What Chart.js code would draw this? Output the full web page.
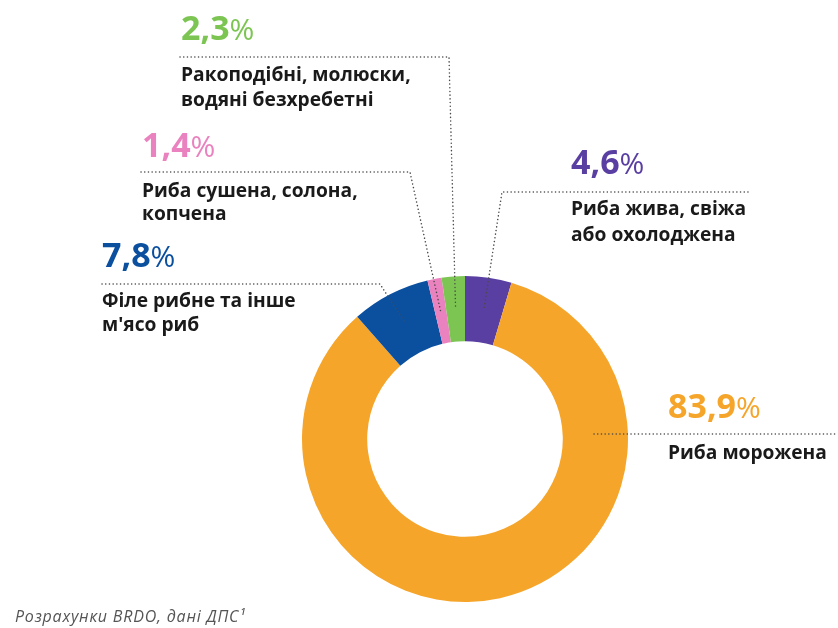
<!DOCTYPE html>
<html lang="uk">
<head>
<meta charset="utf-8">
<title>Структура імпорту риби</title>
<script src="https://cdn.jsdelivr.net/npm/chart.js@4/dist/chart.umd.min.js"></script>
<style>
  html, body { margin: 0; padding: 0; background: #ffffff; }
  #wrap { position: relative; width: 838px; height: 628px; }
  canvas { display: block; }
</style>
</head>
<body>
<div id="wrap"><canvas id="chart" width="838" height="628"></canvas></div>
<script>
// Product groups, clockwise from 12 o'clock
const categories = [
  ["Риба жива, свіжа", "або охолоджена"],
  ["Риба морожена"],
  ["Філе рибне та інше", "м'ясо риб"],
  ["Риба сушена, солона,", "копчена"],
  ["Ракоподібні, молюски,", "водяні безхребетні"]
];
const shares = [4.6, 83.9, 7.8, 1.4, 2.3];
const shareLabels = ["4,6", "83,9", "7,8", "1,4", "2,3"];
const sliceColors = ["#5a3fa3", "#f6a52b", "#0b4f9f", "#ea82bf", "#7cc553"];
const sourceNote = "Розрахунки BRDO, дані ДПС¹";

// Where each caption sits: x of text, baseline of the big number,
// the dotted rule under it, and which end of the rule joins the slice.
const captionLayout = [
  { x: 571, numY: 174, ruleY: 192, ruleFrom: 502, ruleTo: 748, joinX: 502, lineY: 215, lh: 26 },
  { x: 668, numY: 418, ruleY: 434, ruleFrom: 596, ruleTo: 838, joinX: null, lineY: 459, lh: 26 },
  { x: 102, numY: 267, ruleY: 284, ruleFrom: 102, ruleTo: 380, joinX: 380, lineY: 307, lh: 24 },
  { x: 142, numY: 157, ruleY: 172, ruleFrom: 141, ruleTo: 410, joinX: 410, lineY: 197, lh: 23 },
  { x: 181, numY: 40,  ruleY: 57,  ruleFrom: 180, ruleTo: 449, joinX: 449, lineY: 81,  lh: 25 }
];

const FONT = '"Open Sans", "Noto Sans", sans-serif';

const captionsPlugin = {
  id: 'captions',
  afterDatasetsDraw(chart) {
    const ctx = chart.ctx;
    const meta = chart.getDatasetMeta(0);
    ctx.save();
    meta.data.forEach((arc, i) => {
      const L = captionLayout[i];
      const p = arc.getProps(['x', 'y', 'startAngle', 'endAngle', 'innerRadius', 'outerRadius'], true);
      const mid = (p.startAngle + p.endAngle) / 2;
      const r = (p.innerRadius + p.outerRadius) / 2;
      const px = p.x + Math.cos(mid) * r;
      const py = p.y + Math.sin(mid) * r;

      // dotted leader
      ctx.strokeStyle = '#4a4a4a';
      ctx.lineWidth = 1.5;
      ctx.lineCap = 'round';
      ctx.setLineDash([0.1, 3.6]);
      ctx.beginPath();
      if (L.joinX === null) {
        ctx.moveTo(p.x + p.outerRadius - 34, L.ruleY);
        ctx.lineTo(L.ruleTo, L.ruleY);
      } else {
        const other = L.joinX === L.ruleFrom ? L.ruleTo : L.ruleFrom;
        ctx.moveTo(other, L.ruleY);
        ctx.lineTo(L.joinX, L.ruleY);
        ctx.lineTo(px, py);
      }
      ctx.stroke();
      ctx.setLineDash([]);

      // big share number with a lighter percent sign
      ctx.textBaseline = 'alphabetic';
      ctx.textAlign = 'left';
      ctx.fillStyle = sliceColors[i];
      ctx.font = '700 34px ' + FONT;
      ctx.fillText(shareLabels[i], L.x, L.numY);
      const w = ctx.measureText(shareLabels[i]).width;
      ctx.font = '400 30px ' + FONT;
      ctx.fillText('%', L.x + w, L.numY);

      // category caption
      ctx.fillStyle = '#1a1a1a';
      ctx.font = '700 19.2px ' + FONT;
      categories[i].forEach((line, k) => {
        ctx.fillText(line, L.x, L.lineY + k * L.lh);
      });
    });

    // source line
    ctx.fillStyle = '#555555';
    ctx.font = 'italic 400 16px ' + FONT;
    ctx.letterSpacing = '0.8px';
    ctx.fillText(sourceNote, 15, 622);
    ctx.restore();
  }
};

new Chart(document.getElementById('chart'), {
  type: 'doughnut',
  data: {
    labels: categories.map(c => c.join(' ')),
    datasets: [{
      data: shares,
      backgroundColor: sliceColors,
      borderWidth: 0
    }]
  },
  options: {
    responsive: false,
    animation: false,
    rotation: 0,
    cutout: '60%',
    layout: { padding: { left: 302, right: 210, top: 276, bottom: 26 } },
    plugins: {
      legend: { display: false },
      tooltip: { enabled: false }
    }
  },
  plugins: [captionsPlugin]
});
</script>
</body>
</html>
